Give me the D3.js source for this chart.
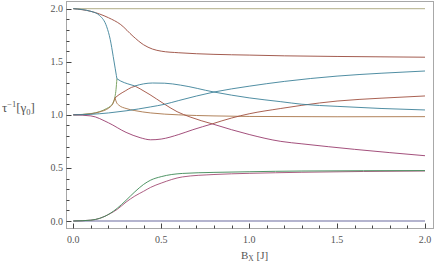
<!DOCTYPE html>
<html>
<head>
<meta charset="utf-8">
<script src="https://cdn.jsdelivr.net/npm/d3@7"></script>
<style>
  body { margin: 0; background: #fff; }
  text { font-family: "Liberation Serif", "Times New Roman", serif; fill: #555; }
</style>
</head>
<body>
<svg id="chart" width="436" height="265"></svg>
<script>
// tick values
const xMajor = [0, 0.5, 1, 1.5, 2];
const yMajor = [0, 0.5, 1, 1.5, 2];
const xTickLabels = ["0.0", "0.5", "1.0", "1.5", "2.0"];
const yTickLabels = ["0.0", "0.5", "1.0", "1.5", "2.0"];

// decay rates, [Bx, tau^-1]
const flatTwo = [[0, 2], [2, 2]];
const flatZero = [[0, 0], [2, 0]];
const upperRed = [[0, 2], [0.1, 1.975], [0.2, 1.915], [0.27, 1.85], [0.34, 1.74], [0.4, 1.66], [0.45, 1.62],
  [0.5, 1.6], [0.6, 1.585], [0.8, 1.57], [1.0, 1.563], [1.2, 1.556], [1.5, 1.55], [2.0, 1.543]];
const upperTeal = [[0, 2], [0.1, 1.975], [0.15, 1.935], [0.19, 1.83], [0.21, 1.71], [0.227, 1.55], [0.238, 1.44],
  [0.245, 1.37], [0.248, 1.34], [0.27, 1.318], [0.31, 1.292], [0.35, 1.272], [0.4, 1.292], [0.45, 1.3],
  [0.52, 1.298], [0.61, 1.28], [0.8, 1.215], [1.0, 1.16], [1.18, 1.124], [1.3, 1.1], [1.5, 1.08],
  [1.75, 1.06], [2.0, 1.046]];
const steepGreen = [[0, 1], [0.1, 1.012], [0.15, 1.03], [0.19, 1.06], [0.21, 1.08], [0.225, 1.11],
  [0.237, 1.17], [0.243, 1.24], [0.248, 1.34]];
const orange = [[0, 1], [0.1, 1.01], [0.15, 1.028], [0.19, 1.052], [0.21, 1.075], [0.225, 1.105], [0.237, 1.16],
  [0.245, 1.12], [0.26, 1.09], [0.3, 1.06], [0.35, 1.04], [0.44, 1.018], [0.6, 1.0], [0.8, 0.99],
  [1.0, 0.985], [1.5, 0.982], [2.0, 0.983]];
const redBranch = [[0.237, 1.16], [0.26, 1.19], [0.295, 1.225], [0.33, 1.258], [0.352, 1.27], [0.38, 1.245],
  [0.436, 1.19], [0.51, 1.11], [0.59, 1.03], [0.664, 0.98], [0.79, 0.915], [0.9, 0.97], [1.0, 1.01],
  [1.18, 1.06], [1.3, 1.09], [1.5, 1.13], [1.75, 1.157], [2.0, 1.178]];
const purpleBranch = [[0, 1], [0.1, 0.99], [0.2, 0.925], [0.3, 0.835], [0.38, 0.785], [0.44, 0.765],
  [0.5, 0.772], [0.6, 0.815], [0.68, 0.86], [0.79, 0.915], [0.9, 0.86], [1.0, 0.815], [1.18, 0.75],
  [1.3, 0.727], [1.6, 0.675], [2.0, 0.615]];
const risingTeal = [[0, 1], [0.1, 1.005], [0.2, 1.018], [0.3, 1.038], [0.44, 1.075], [0.52, 1.1], [0.6, 1.135],
  [0.8, 1.215], [1.0, 1.27], [1.2, 1.315], [1.5, 1.365], [1.75, 1.392], [2.0, 1.413]];
const lowGreen = [[0, 0], [0.1, 0.008], [0.15, 0.025], [0.21, 0.072], [0.25, 0.12], [0.3, 0.195], [0.35, 0.275],
  [0.4, 0.345], [0.44, 0.385], [0.5, 0.418], [0.62, 0.448], [0.8, 0.458], [1.0, 0.464], [1.3, 0.471], [2.0, 0.475]];
const lowPink = [[0, 0], [0.1, 0.008], [0.15, 0.025], [0.21, 0.07], [0.25, 0.11], [0.3, 0.178], [0.35, 0.235],
  [0.4, 0.28], [0.44, 0.317], [0.5, 0.357], [0.62, 0.415], [0.8, 0.438], [1.0, 0.449], [1.3, 0.459], [2.0, 0.471]];

// kinks = Bx values where the curve has a corner (exceptional points / touching branches)
const curves = [
  { data: flatZero, color: "#5a5a94", kinks: [] },
  { data: lowPink, color: "#a34d74", kinks: [] },
  { data: lowGreen, color: "#3d8a55", kinks: [] },
  { data: flatTwo, color: "#a9a47a", kinks: [] },
  { data: upperRed, color: "#994a3d", kinks: [] },
  { data: steepGreen, color: "#6f9a55", kinks: [] },
  { data: orange, color: "#a8764a", kinks: [0.237] },
  { data: purpleBranch, color: "#993d6e", kinks: [0.79] },
  { data: redBranch, color: "#a0503f", kinks: [0.352, 0.79] },
  { data: risingTeal, color: "#3d8299", kinks: [] },
  { data: upperTeal, color: "#3d8299", kinks: [0.248, 0.35] }
];

function splitAt(data, kinks) {
  const segs = [];
  let cur = [];
  data.forEach(p => {
    cur.push(p);
    if (kinks.includes(p[0])) {
      segs.push(cur);
      cur = [p];
    }
  });
  if (cur.length > 1) segs.push(cur);
  return segs;
}

const svg = d3.select("#chart");

// frame box in pixels
const frame = { left: 66.5, right: 433.5, top: 1.5, bottom: 228.5 };

const x = d3.scaleLinear().domain([0, 2]).range([73.3, 425]);
const y = d3.scaleLinear().domain([0, 2]).range([221, 8.7]);

svg.append("clipPath").attr("id", "clip")
  .append("rect")
  .attr("x", frame.left).attr("y", frame.top)
  .attr("width", frame.right - frame.left).attr("height", frame.bottom - frame.top);

const line = d3.line()
  .x(d => x(d[0]))
  .y(d => y(d[1]))
  .curve(d3.curveMonotoneX);

const plot = svg.append("g").attr("clip-path", "url(#clip)");
plot.selectAll("path")
  .data(curves)
  .join("path")
  .attr("d", d => splitAt(d.data, d.kinks).map(s => line(s)).join(""))
  .attr("fill", "none")
  .attr("stroke", d => d.color)
  .attr("stroke-width", 1)
  .attr("stroke-opacity", 0.9);

// frame
svg.append("rect")
  .attr("x", frame.left).attr("y", frame.top)
  .attr("width", frame.right - frame.left).attr("height", frame.bottom - frame.top)
  .attr("fill", "none")
  .attr("stroke", "#a8a8a8")
  .attr("stroke-width", 1);

// minor + major ticks, pointing inward
const minor = d3.range(0, 2.0001, 0.1);
const isMajor = d => Math.abs(d * 2 - Math.round(d * 2)) < 1e-6;
const ticks = svg.append("g").attr("stroke", "#444").attr("stroke-width", 1);

ticks.selectAll(".xt")
  .data(minor)
  .join("line")
  .attr("x1", d => Math.round(x(d)) + 0.5)
  .attr("x2", d => Math.round(x(d)) + 0.5)
  .attr("y1", frame.bottom)
  .attr("y2", d => frame.bottom - (isMajor(d) ? 5 : 3));

ticks.selectAll(".yt")
  .data(minor)
  .join("line")
  .attr("y1", d => Math.round(y(d)) + 0.5)
  .attr("y2", d => Math.round(y(d)) + 0.5)
  .attr("x1", frame.left)
  .attr("x2", d => frame.left + (isMajor(d) ? 5 : 3));

// tick labels
svg.append("g").selectAll("text")
  .data(xMajor)
  .join("text")
  .attr("x", d => x(d))
  .attr("y", 243)
  .attr("text-anchor", "middle")
  .attr("font-size", 10)
  .text((d, i) => xTickLabels[i]);

svg.append("g").selectAll("text")
  .data(yMajor)
  .join("text")
  .attr("x", 63)
  .attr("y", d => y(d) + 3.5)
  .attr("text-anchor", "end")
  .attr("font-size", 10)
  .text((d, i) => yTickLabels[i]);

// axis labels
const xl = svg.append("text")
  .attr("x", 241)
  .attr("y", 259)
  .attr("font-size", 11);
xl.append("tspan").text("B");
xl.append("tspan").attr("font-size", 7.5).attr("dy", 2).text("X");
xl.append("tspan").attr("dy", -2).text(" [J]");

const yl = svg.append("text")
  .attr("x", 2)
  .attr("y", 112)
  .attr("font-size", 13);
yl.append("tspan").text("τ");
yl.append("tspan").attr("font-size", 8.5).attr("dy", -5).text("−1");
yl.append("tspan").attr("dy", 5).text("[γ");
yl.append("tspan").attr("font-size", 8.5).attr("dy", 3).text("0");
yl.append("tspan").attr("dy", -3).text("]");
</script>
</body>
</html>
